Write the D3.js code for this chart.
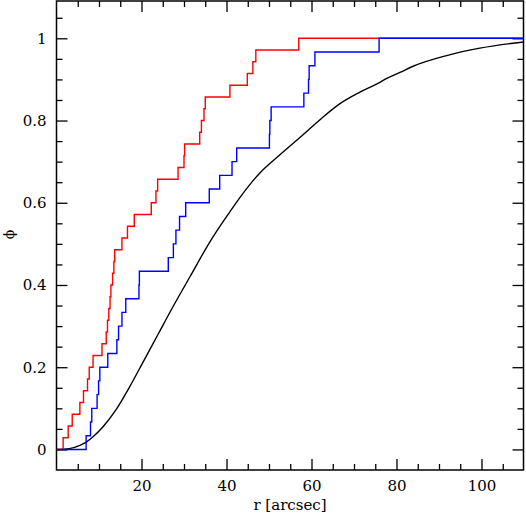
<!DOCTYPE html>
<html>
<head>
<meta charset="utf-8">
<script src="https://cdn.jsdelivr.net/npm/d3@7"></script>
<style>
  html, body { margin: 0; padding: 0; background: #fff; }
  svg { display: block; }
  text { font-family: "DejaVu Serif", serif; fill: #000; }
</style>
</head>
<body>
<svg id="chart" width="526" height="514"></svg>
<script>
// ---- data ----
// red sample: sorted radii (arcsec), N = 35
const redR = [1.56, 2.75, 3.7, 5.5, 6.35, 7.3, 7.7, 8.6, 10.7, 11.7,
              12.0, 12.3, 12.6, 12.8, 13.2, 13.5, 13.7, 15.4, 16.7, 18.3,
              22.3, 23.4, 23.8, 28.6, 30.0, 30.15, 33.7, 34.1, 34.7, 35.0,
              40.8, 44.9, 46.2, 46.9, 57.0];
// blue sample: sorted radii (arcsec), N = 30
const blueR = [6.97, 8.0, 8.3, 9.55, 9.9, 10.2, 12.07, 14.2, 14.6, 15.4,
               16.3, 19.4, 19.5, 26.3, 27.5, 28.1, 28.95, 30.4, 35.95, 38.4,
               41.3, 42.4, 50.1, 50.2, 50.5, 58.2, 59.3, 59.45, 60.8, 75.9];
// black model curve
const modelR   = [0, 3, 5.5, 7, 8.6, 11, 14.1, 17.2, 20.4, 24, 27.4, 31.4, 36.1, 40.8, 43.1,
                  47.8, 52.5, 57.2, 62, 66.7, 71.4, 76.1, 77.6, 80.8, 83.9, 91.8, 99.6, 107.4, 110];
const modelPhi = [0, 0.002, 0.01, 0.018, 0.031, 0.056, 0.098, 0.152, 0.213, 0.282, 0.347, 0.42, 0.505, 0.578, 0.612,
                  0.672, 0.716, 0.758, 0.802, 0.841, 0.869, 0.893, 0.902, 0.917, 0.932, 0.958, 0.976, 0.988, 0.991];

const xMajorTicks = [20, 40, 60, 80, 100];
const xTickLabels = ["20", "40", "60", "80", "100"];
const yMajorTicks = [0, 0.2, 0.4, 0.6, 0.8, 1];
const yTickLabels = ["0", "0.2", "0.4", "0.6", "0.8", "1"];
const xLabel = "r [arcsec]";
const yLabel = "\u03D5";

// ---- layout ----
const svg = d3.select("#chart");
const L = 56.5, R = 523.5, T = 1, B = 470;
const x = d3.scaleLinear().domain([0, 110]).range([L, L + 110 * 4.25]);
const y = d3.scaleLinear().domain([-0.05, 1.09]).range([B, T + 0.3]);

const xMinor = d3.range(0, 111, 5).filter(v => v > 0 && v < 110 && v % 20 !== 0);
const yMinor = d3.range(-1, 22).map(i => +(i * 0.05).toFixed(2)).filter(v => v > -0.05 && v < 1.09 && !yMajorTicks.includes(v));

function styleAxis(g) {
  g.select(".domain").remove();
  g.selectAll(".tick line").attr("stroke", "#000").attr("stroke-width", 1.3);
  g.selectAll(".tick text").style("font-family", "DejaVu Serif, serif").style("font-size", "15px").attr("fill", "#000");
}

// bottom
svg.append("g").attr("transform", `translate(0,${B})`)
  .call(d3.axisBottom(x).tickValues(xMajorTicks).tickSize(-11).tickPadding(10)
    .tickFormat((d, i) => xTickLabels[i])).call(styleAxis);
svg.append("g").attr("transform", `translate(0,${B})`)
  .call(d3.axisBottom(x).tickValues(xMinor).tickSize(-6).tickFormat("")).call(styleAxis);
// top
svg.append("g").attr("transform", `translate(0,${T})`)
  .call(d3.axisTop(x).tickValues(xMajorTicks).tickSize(-11).tickFormat("")).call(styleAxis);
svg.append("g").attr("transform", `translate(0,${T})`)
  .call(d3.axisTop(x).tickValues(xMinor).tickSize(-6).tickFormat("")).call(styleAxis);
// left
svg.append("g").attr("transform", `translate(${L},0)`)
  .call(d3.axisLeft(y).tickValues(yMajorTicks).tickSize(-11).tickPadding(10)
    .tickFormat((d, i) => yTickLabels[i])).call(styleAxis);
svg.append("g").attr("transform", `translate(${L},0)`)
  .call(d3.axisLeft(y).tickValues(yMinor).tickSize(-6).tickFormat("")).call(styleAxis);
// right
svg.append("g").attr("transform", `translate(${R},0)`)
  .call(d3.axisRight(y).tickValues(yMajorTicks).tickSize(-11).tickFormat("")).call(styleAxis);
svg.append("g").attr("transform", `translate(${R},0)`)
  .call(d3.axisRight(y).tickValues(yMinor).tickSize(-6).tickFormat("")).call(styleAxis);

// frame
svg.append("rect").attr("x", L).attr("y", T).attr("width", R - L).attr("height", B - T)
  .attr("fill", "none").attr("stroke", "#000").attr("stroke-width", 1.5);

// ---- curves ----
const clip = svg.append("clipPath").attr("id", "clip").append("rect")
  .attr("x", L).attr("y", T).attr("width", R - L).attr("height", B - T);
const plot = svg.append("g").attr("clip-path", "url(#clip)");

function ecdf(arr) {
  const n = arr.length;
  const pts = [[0, 0]];
  arr.forEach((r, i) => pts.push([r, (i + 1) / n]));
  pts.push([110, 1]);
  return pts;
}
const stepLine = d3.line().x(d => x(d[0])).y(d => y(d[1])).curve(d3.curveStepAfter);

const model = modelR.map((r, i) => [r, modelPhi[i]]);
plot.append("path").attr("d", d3.line().x(d => x(d[0])).y(d => y(d[1])).curve(d3.curveMonotoneX)(model))
  .attr("fill", "none").attr("stroke", "#000").attr("stroke-width", 1.4);

plot.append("path").attr("d", stepLine(ecdf(redR)))
  .attr("fill", "none").attr("stroke", "#ff0000").attr("stroke-width", 1.4);
plot.append("path").attr("d", stepLine(ecdf(blueR)))
  .attr("fill", "none").attr("stroke", "#0000ff").attr("stroke-width", 1.4);

// ---- labels ----
svg.append("text").attr("x", (L + R) / 2).attr("y", 510).attr("text-anchor", "middle")
  .style("font-size", "15px").text(xLabel);
svg.append("text").attr("transform", `translate(9,${(T + B) / 2 - 1}) rotate(-90)`)
  .attr("text-anchor", "middle").attr("dy", "0.35em").style("font-size", "14px").text(yLabel);
</script>
</body>
</html>
